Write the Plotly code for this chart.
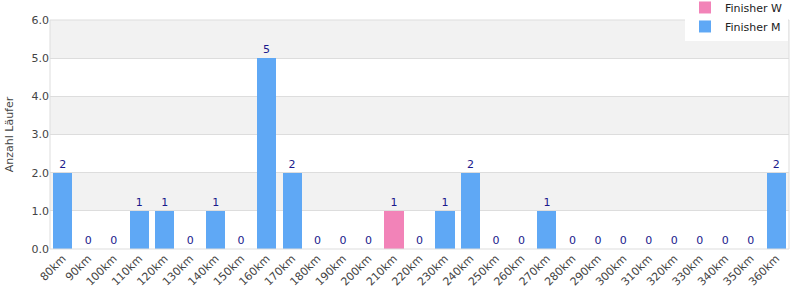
import plotly.graph_objects as go

categories = [f"{d}km" for d in range(80, 370, 10)]
finisher_w = [0,0,0,0,0,0,0,0,0,0,0,0,0,1,0,0,0,0,0,0,0,0,0,0,0,0,0,0,0]
finisher_m = [2,0,0,1,1,0,1,0,5,2,0,0,0,0,0,1,2,0,0,1,0,0,0,0,0,0,0,0,2]
totals = [w + m for w, m in zip(finisher_w, finisher_m)]
y_ticks = [0, 1, 2, 3, 4, 5, 6]

fig = go.Figure()
fig.add_trace(go.Bar(x=categories, y=finisher_w, name="Finisher W",
                     marker=dict(color="#f283b8", line=dict(width=0))))
fig.add_trace(go.Bar(x=categories, y=finisher_m, name="Finisher M",
                     marker=dict(color="#5fa8f5", line=dict(width=0))))
fig.add_trace(go.Scatter(x=categories, y=totals, mode="markers+text", text=[str(t) for t in totals],
                         textposition="top center", showlegend=False, hoverinfo="skip",
                         marker=dict(size=2, opacity=0), cliponaxis=False,
                         textfont=dict(color="#1a1a8c", size=11, family="DejaVu Sans")))

shapes = []
for i in range(len(y_ticks) - 1):
    if i % 2 == 1:
        shapes.append(dict(type="rect", xref="paper", yref="y", x0=0, x1=1,
                           y0=y_ticks[i], y1=y_ticks[i + 1], fillcolor="#f2f2f2",
                           line=dict(width=0), layer="below"))
shapes.append(dict(type="rect", xref="paper", yref="paper", x0=0, x1=1, y0=0, y1=1,
                   line=dict(color="#dddddd", width=1), fillcolor="rgba(0,0,0,0)", layer="above"))

fig.update_layout(
    width=800, height=300,
    margin=dict(l=50, r=11, t=20, b=51, autoexpand=False),
    barmode="stack", bargap=0.25,
    plot_bgcolor="white", paper_bgcolor="white",
    font=dict(family="DejaVu Sans", size=11, color="#444"),
    shapes=shapes,
    legend=dict(x=0.985, y=1.118, xref="container", yref="paper",
                xanchor="right", yanchor="top", bgcolor="white",
                font=dict(size=11, color="#222"), traceorder="normal",
                itemwidth=30, tracegroupgap=0),
    xaxis=dict(tickangle=-45, tickfont=dict(size=11, color="#444"), showgrid=False,
               range=[-0.5, len(categories) - 0.5],
               ticks="", showline=False, automargin=False),
    yaxis=dict(range=[0, 6], tickvals=y_ticks, tickformat=".1f", showgrid=True,
               gridcolor="#dddddd", zeroline=False, showline=False, automargin=False,
               title=dict(text="Anzahl Läufer", font=dict(size=11, color="#444")),
               tickfont=dict(size=11, color="#444")),
)
fig.write_html("out.html")
